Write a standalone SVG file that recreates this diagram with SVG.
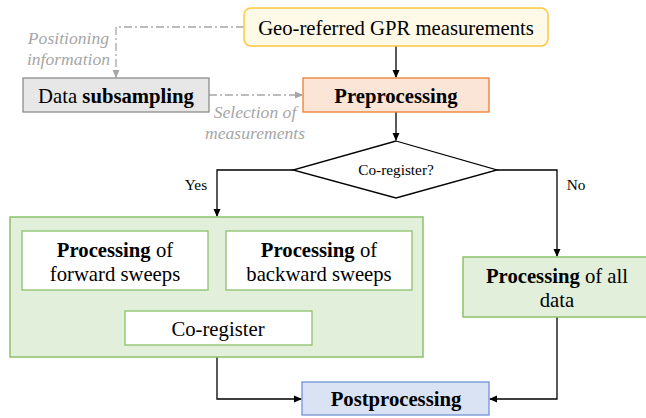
<svg xmlns="http://www.w3.org/2000/svg" width="646" height="418" viewBox="0 0 646 418">
<defs>
<marker id="ah" markerWidth="8" markerHeight="8" refX="7" refY="4" orient="auto" markerUnits="userSpaceOnUse"><path d="M0,0.5 L8,4 L0,7.5 Z" fill="#000"/></marker>
<marker id="ahg" markerWidth="8" markerHeight="8" refX="7" refY="4" orient="auto" markerUnits="userSpaceOnUse"><path d="M0,0.5 L8,4 L0,7.5 Z" fill="#a6a6a6"/></marker>
<style>
text{font-family:"Liberation Serif","Times New Roman",serif;fill:#000}
.t{font-size:20.7px;text-anchor:middle}
.b{font-weight:bold}
.s{font-size:15.3px;text-anchor:middle}
.i{font-size:17.6px;font-style:italic;fill:#a6a6a6}
.c{fill:none;stroke:#000;stroke-width:1.3}
.g{fill:none;stroke:#a6a6a6;stroke-width:1.3;stroke-dasharray:8 3 2 3}
.w{fill:#fff;stroke:#8cc16b;stroke-width:1.3}
.gr{fill:#e2efda;stroke:#8cc16b;stroke-width:1.5}
</style>
</defs>
<g id="connectors">
<path class="c" d="M396,46 V77" marker-end="url(#ah)"/>
<path class="c" d="M396,112 V140" marker-end="url(#ah)"/>
<path class="c" d="M293,170 H217 V216" marker-end="url(#ah)"/>
<path class="c" d="M497,170 H557 V256" marker-end="url(#ah)"/>
<path class="c" d="M115,290 V300 H319 V290"/>
<path class="c" d="M218,300 V310" marker-end="url(#ah)"/>
<path class="c" d="M217,357 V399 H301" marker-end="url(#ah)"/>
<path class="c" d="M557,317 V399 H490" marker-end="url(#ah)"/>
<path class="g" d="M244,27 H116 V77" marker-end="url(#ahg)"/>
<path class="g" d="M209,95 H302" marker-end="url(#ahg)"/>
<text class="i" x="109" y="44" text-anchor="end">Positioning</text>
<text class="i" x="110" y="65" text-anchor="end">information</text>
<text class="i" x="255" y="118" text-anchor="middle">Selection of</text>
<text class="i" x="255" y="139" text-anchor="middle">measurements</text>
<text class="s" x="196" y="190">Yes</text>
<text class="s" x="576" y="190">No</text>
</g>
<g id="geo">
<rect x="244" y="8" width="304" height="38" rx="7" fill="#fff9e7" stroke="#ffc83d" stroke-width="1.5"/>
<text class="t" x="396" y="35">Geo-referred GPR measurements</text>
</g>
<g id="preprocessing">
<rect x="303" y="78" width="186" height="34" fill="#fbe5d6" stroke="#ed7d31" stroke-width="1.3"/>
<text class="t b" x="396" y="103">Preprocessing</text>
</g>
<g id="subsampling">
<rect x="23" y="78" width="186" height="34" fill="#e7e7e7" stroke="#8c8c8c" stroke-width="1.3"/>
<text class="t" x="116" y="103">Data <tspan class="b">subsampling</tspan></text>
</g>
<g id="decision">
<polygon points="396,141 497,170 396,198 293,170" fill="#fff" stroke="#000" stroke-width="1.3"/>
<text class="s" x="396" y="175">Co-register?</text>
</g>
<g id="container">
<rect class="gr" x="10" y="217" width="413" height="140"/>
</g>
<g id="forward">
<rect class="w" x="22" y="231" width="186" height="59"/>
<text class="t" x="115" y="257"><tspan class="b">Processing</tspan> of</text>
<text class="t" x="115" y="281">forward sweeps</text>
</g>
<g id="backward">
<rect class="w" x="226" y="231" width="186" height="59"/>
<text class="t" x="319" y="257"><tspan class="b">Processing</tspan> of</text>
<text class="t" x="319" y="281">backward sweeps</text>
</g>
<g id="coregister">
<rect class="w" x="125" y="311" width="187" height="34"/>
<text class="t" x="218" y="336">Co-register</text>
</g>
<g id="alldata">
<rect class="gr" x="463" y="257" width="190" height="60"/>
<text class="t" x="557" y="283"><tspan class="b">Processing</tspan> of all</text>
<text class="t" x="557" y="307">data</text>
</g>
<g id="postprocessing">
<rect x="302" y="382" width="187" height="33" fill="#dae3f3" stroke="#6f94d6" stroke-width="1.3"/>
<text class="t b" x="396" y="406">Postprocessing</text>
</g>
</svg>
